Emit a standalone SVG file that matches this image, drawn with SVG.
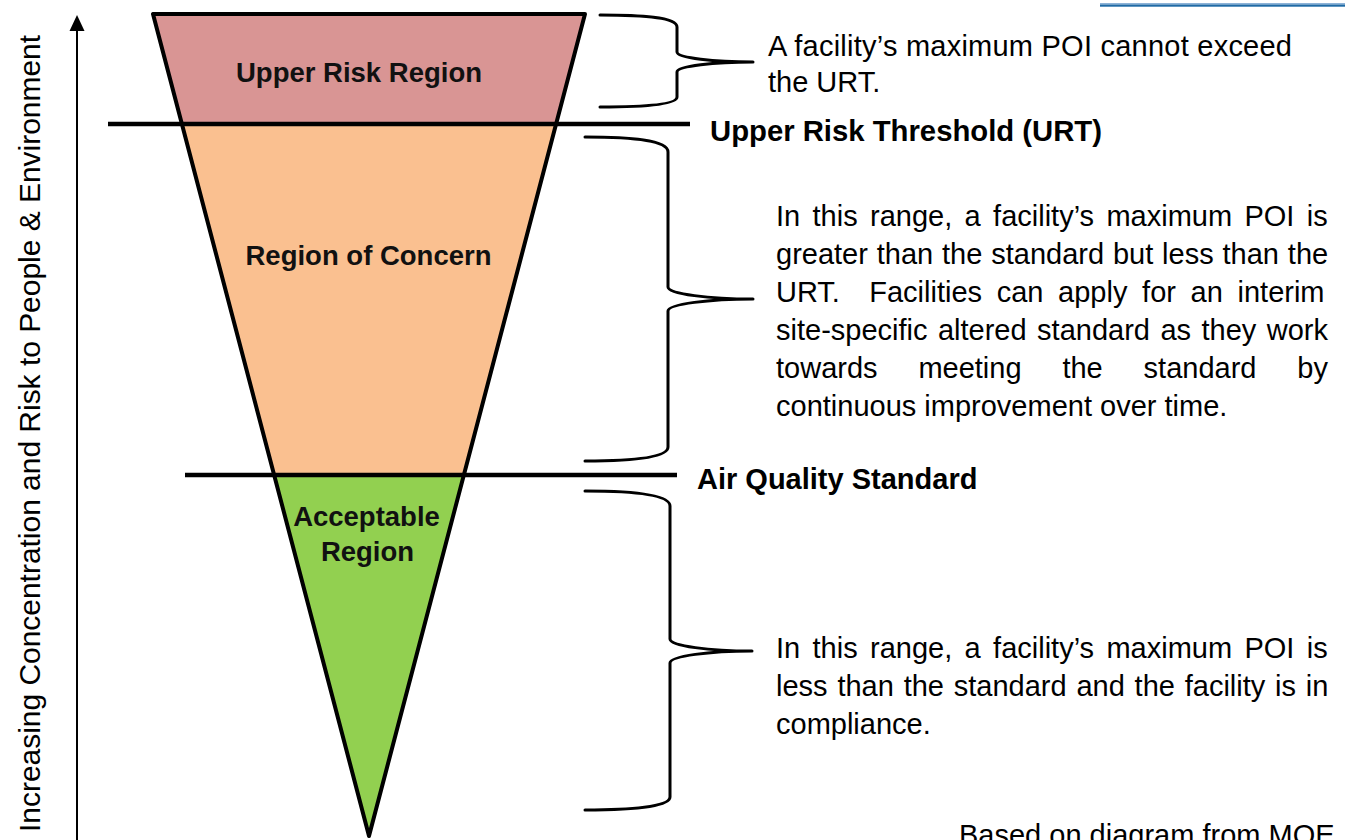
<svg xmlns="http://www.w3.org/2000/svg" width="1345" height="840" viewBox="0 0 1345 840">
<style>
.lbl{font-family:"Liberation Sans",Arial,sans-serif;font-weight:bold;font-size:27.5px;fill:#111;text-anchor:middle}
.hd{font-family:"Liberation Sans",Arial,sans-serif;font-weight:bold;font-size:29px;fill:#000}
.tx{font-family:"Liberation Sans",Arial,sans-serif;font-size:29px;fill:#000}
.brace{fill:none;stroke:#000;stroke-width:3;stroke-linecap:round;stroke-linejoin:round}
.thr{stroke:#000;stroke-width:4.5}
</style>
<rect width="1345" height="840" fill="#fff"/>
<rect x="1100" y="3" width="245" height="1.5" fill="#8db3d8"/>
<rect x="1100" y="4.5" width="245" height="2.2" fill="#1f6aa5"/>

<g id="axis">
<line x1="77" y1="840" x2="77" y2="30" stroke="#000" stroke-width="2"/>
<path d="M69.5,31 L77,15 L84.5,31 Z" fill="#000"/>
<text class="tx" font-size="32" transform="translate(40,832) rotate(-90)" textLength="797" lengthAdjust="spacingAndGlyphs">Increasing Concentration and Risk to People &amp; Environment</text>
</g>

<g id="upper-risk-region">
<polygon points="153,14 585,14 556,124 182,124" fill="#d99594"/>
<text class="lbl" x="359" y="82">Upper Risk Region</text>
</g>
<g id="region-of-concern">
<polygon points="182,124 556,124 464,475 274,475" fill="#fac090"/>
<text class="lbl" x="368.5" y="265">Region of Concern</text>
</g>
<g id="acceptable-region">
<polygon points="274,475 464,475 369,836" fill="#92d050"/>
<text class="lbl" x="366.5" y="526">Acceptable</text>
<text class="lbl" x="367.5" y="561">Region</text>
</g>
<polygon id="funnel-outline" points="153,14 585,14 369,836" fill="none" stroke="#000" stroke-width="4" stroke-linejoin="round"/>

<g id="urt">
<line class="thr" x1="108" y1="124" x2="690" y2="124"/>
<text class="hd" x="710" y="141" textLength="392" lengthAdjust="spacingAndGlyphs">Upper Risk Threshold (URT)</text>
</g>
<g id="aqs">
<line class="thr" x1="185" y1="475" x2="677" y2="475"/>
<text class="hd" x="697" y="489">Air Quality Standard</text>
</g>

<g id="connectors">
<path class="brace" d="M600,15 C640,15 677,17 677,27 L677,52 C677,58 715,62 753,62 C715,62 677,66 677,72 L677,97 C677,105 640,107 600,107"/>
<path class="brace" d="M585,137 C630,137 668,140 668,152 L668,287 C668,294 710,299 753,299 C710,299 668,304 668,311 L668,447 C668,458 630,461 585,461"/>
<path class="brace" d="M585,491 C630,491 670,494 670,506 L670,639 C670,646 710,651 752,651 C710,651 670,656 670,663 L670,797 C670,807 630,810 585,810"/>
</g>

<g id="note-upper">
<text class="tx" x="768" y="56" textLength="524" lengthAdjust="spacing">A facility’s maximum POI cannot exceed</text>
<text class="tx" x="768" y="92">the URT.</text>
</g>
<g id="note-concern">
<text class="tx" x="776" y="226" word-spacing="4.3">In this range, a facility’s maximum POI is</text>
<text class="tx" x="776" y="264" word-spacing="0.8">greater than the standard but less than the</text>
<text class="tx" x="776" y="302" word-spacing="6.6" xml:space="preserve">URT.  Facilities can apply for an interim</text>
<text class="tx" x="776" y="340" word-spacing="2.4">site-specific altered standard as they work</text>
<text class="tx" x="776" y="378" word-spacing="32.8">towards meeting the standard by</text>
<text class="tx" x="776" y="416">continuous improvement over time.</text>
</g>
<g id="note-acceptable">
<text class="tx" x="776" y="658" word-spacing="4.3">In this range, a facility’s maximum POI is</text>
<text class="tx" x="776" y="696" word-spacing="1.75">less than the standard and the facility is in</text>
<text class="tx" x="776" y="734">compliance.</text>
</g>
<text id="source" class="tx" font-size="24" x="959" y="845">Based on diagram from MOE</text>
</svg>
